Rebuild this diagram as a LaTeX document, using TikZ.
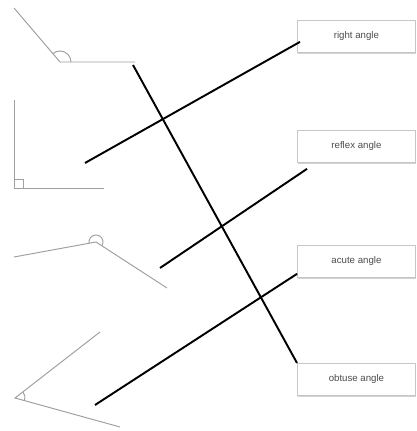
\documentclass[tikz,border=0pt]{standalone}
\usepackage{fontspec}
\setmainfont{Liberation Sans}
\usepackage{tikz}
\usetikzlibrary{calc, shadows}

\begin{document}
\begin{tikzpicture}[
    x=0.02cm, y=0.02cm,
    lbl/.style={rectangle, draw=gray!45, fill=white, line width=0.5pt, minimum width=2.36cm, minimum height=0.64cm, inner sep=0pt, anchor=north west, font=\fontsize{5.5}{6}\selectfont, text=gray!60!black, drop shadow={shadow xshift=0.4pt, shadow yshift=-0.8pt, fill=gray!35, opacity=1}},
    fig/.style={draw=gray!75, line width=0.55pt},
    link/.style={draw=black, line width=1.1pt}
]
    \useasboundingbox (0,0) rectangle (416,431);

    % angle pictures
    \draw[fig] (14,423) -- (60,369) -- (135,369);
    \draw[fig] (71,369) arc[start angle=0, end angle=130, radius=11];
    \draw[fig] (14,331) -- (14,243) -- (104,243);
    \draw[fig] (14,243) rectangle (23,252);
    \draw[fig] (14,174) -- (96,189) -- (167,143);
    \draw[fig] ($(96,189)+(-33:7)$) arc[start angle=-33, end angle=190, radius=7];
    \draw[fig] (100,99) -- (15,33) -- (120,4);
    \draw[fig] ($(15,33)+(-15:10)$) arc[start angle=-15, end angle=38, radius=10];

    % labels
    \node[lbl] (right) at (297,411) {right angle};
    \node[lbl] (reflex) at (297,301) {reflex angle};
    \node[lbl] (acute) at (297,186) {acute angle};
    \node[lbl] (obtuse) at (297,68) {obtuse angle};

    % matching lines
    \coordinate (aright) at (85,268);
    \coordinate (areflex) at (160,163);
    \coordinate (aacute) at (95,26);
    \coordinate (aobtuse) at (133,366);

    \draw[link] (aright) -- ([shift={(3,11)}]right.south west);
    \draw[link] (areflex) -- ([shift={(10,-6)}]reflex.south west);
    \draw[link] (aacute) -- ([shift={(0,4)}]acute.south west);
    \draw[link] (aobtuse) -- (obtuse.north west);
\end{tikzpicture}
\end{document}
